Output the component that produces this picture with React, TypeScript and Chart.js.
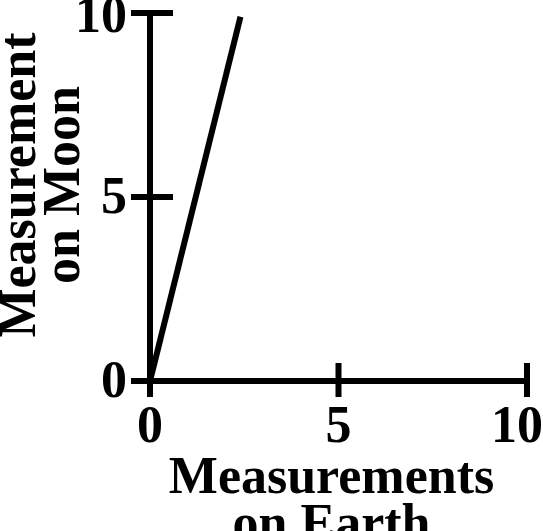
import React, { useEffect, useRef } from "react";
import { Chart, registerables } from "chart.js";

Chart.register(...registerables);

const earthValues = [0, 2.4];
const moonValues = [0, 9.9];
const tickValues = [0, 5, 10];
const xTitle = ["Measurements", "on Earth"];
const yTitle = ["Measurement", "on Moon"];

const FONT = "'Liberation Serif', 'Times New Roman', serif";
const TITLE_FONT = `bold 52px ${FONT}`;

const crossTicks = {
  id: "crossTicks",
  beforeDraw(chart: any) {
    const { ctx } = chart;
    const xs = chart.scales.x;
    const xItems = xs.getLabelItems();
    const last = xItems[xItems.length - 1];
    if (last && !last._adj) {
      last._adj = true;
      ctx.save();
      ctx.font = last.font.string;
      const w = ctx.measureText(String(last.label)).width;
      ctx.restore();
      const [tx, ty] = last.options.translation;
      last.options.translation = [Math.min(tx, chart.width - w / 2), ty];
    }
    const ys = chart.scales.y;
    const yItems = ys.getLabelItems();
    yItems.forEach((it: any, i: number) => {
      if (it._adj) return;
      it._adj = true;
      const [tx, ty] = it.options.translation;
      const extra = i === yItems.length - 1 ? 6 : 3;
      it.options.translation = [tx, ty + extra];
    });
  },
  afterDraw(chart: any) {
    const { ctx, scales, chartArea } = chart;
    ctx.save();
    ctx.strokeStyle = "#000";
    ctx.lineWidth = 6;
    ctx.lineCap = "butt";
    const ys = scales.y;
    ys.ticks.forEach((t: any) => {
      const py = ys.getPixelForValue(t.value);
      ctx.beginPath();
      ctx.moveTo(chartArea.left - 19, py);
      ctx.lineTo(chartArea.left + 23, py);
      ctx.stroke();
    });
    const xs = scales.x;
    xs.ticks.forEach((t: any) => {
      const px = xs.getPixelForValue(t.value);
      ctx.beginPath();
      ctx.moveTo(px, chartArea.bottom - 18);
      ctx.lineTo(px, chartArea.bottom + 16);
      ctx.stroke();
    });

    // axis titles
    ctx.fillStyle = "#000";
    ctx.font = TITLE_FONT;
    ctx.textAlign = "center";
    ctx.textBaseline = "alphabetic";
    const cx = (chartArea.left + chartArea.right) / 2 - 7;
    xTitle.forEach((line, i) => {
      ctx.fillText(line, cx, chartArea.bottom + 112 + i * 47);
    });
    const cy = (chartArea.top + chartArea.bottom) / 2 - 12;
    yTitle.forEach((line, i) => {
      ctx.save();
      ctx.translate(35 + i * 44, cy);
      ctx.rotate(-Math.PI / 2);
      ctx.fillText(line, 0, 0);
      ctx.restore();
    });
    ctx.restore();
  },
};

export default function App() {
  const ref = useRef<HTMLCanvasElement>(null);
  useEffect(() => {
    const canvas = ref.current!;
    const chart = new Chart(canvas, {
      type: "line",
      data: {
        datasets: [
          {
            data: earthValues.map((x, i) => ({ x, y: moonValues[i] })),
            borderColor: "#000",
            borderWidth: 6,
            pointRadius: 0,
            fill: false,
            clip: false as any,
            tension: 0,
          },
        ],
      },
      options: {
        animation: false,
        responsive: false,
        maintainAspectRatio: false,
        devicePixelRatio: 1,
        layout: { padding: { top: 13, right: 16, left: 0, bottom: 0 } },
        plugins: { legend: { display: false }, tooltip: { enabled: false } },
        scales: {
          x: {
            type: "linear",
            min: 0,
            max: 10,
            afterBuildTicks: (s: any) => {
              s.ticks = tickValues.map((v) => ({ value: v }));
            },
            afterFit: (s: any) => {
              s.height = 150;
              s.paddingLeft = 0;
              s.paddingRight = 0;
            },
            grid: { display: false, drawTicks: false },
            border: { display: true, color: "#000", width: 6 },
            ticks: {
              color: "#000",
              padding: 16,
              maxRotation: 0,
              font: { family: FONT, weight: "bold", size: 52 },
            },
            title: { display: false },
          },
          y: {
            type: "linear",
            min: 0,
            max: 10,
            afterBuildTicks: (s: any) => {
              s.ticks = tickValues.map((v) => ({ value: v }));
            },
            afterFit: (s: any) => {
              s.width = 150;
              s.paddingTop = 0;
              s.paddingBottom = 0;
            },
            grid: { display: false, drawTicks: false },
            border: { display: true, color: "#000", width: 6 },
            ticks: {
              color: "#000",
              padding: 23,
              font: { family: FONT, weight: "bold", size: 52 },
            },
            title: { display: false },
          },
        },
      },
      plugins: [crossTicks],
    });
    return () => chart.destroy();
  }, []);
  return (
    <div style={{ position: "absolute", left: 0, top: 0, width: 543, height: 531, background: "#fff" }}>
      <canvas ref={ref} width={543} height={531} style={{ display: "block" }} />
    </div>
  );
}
